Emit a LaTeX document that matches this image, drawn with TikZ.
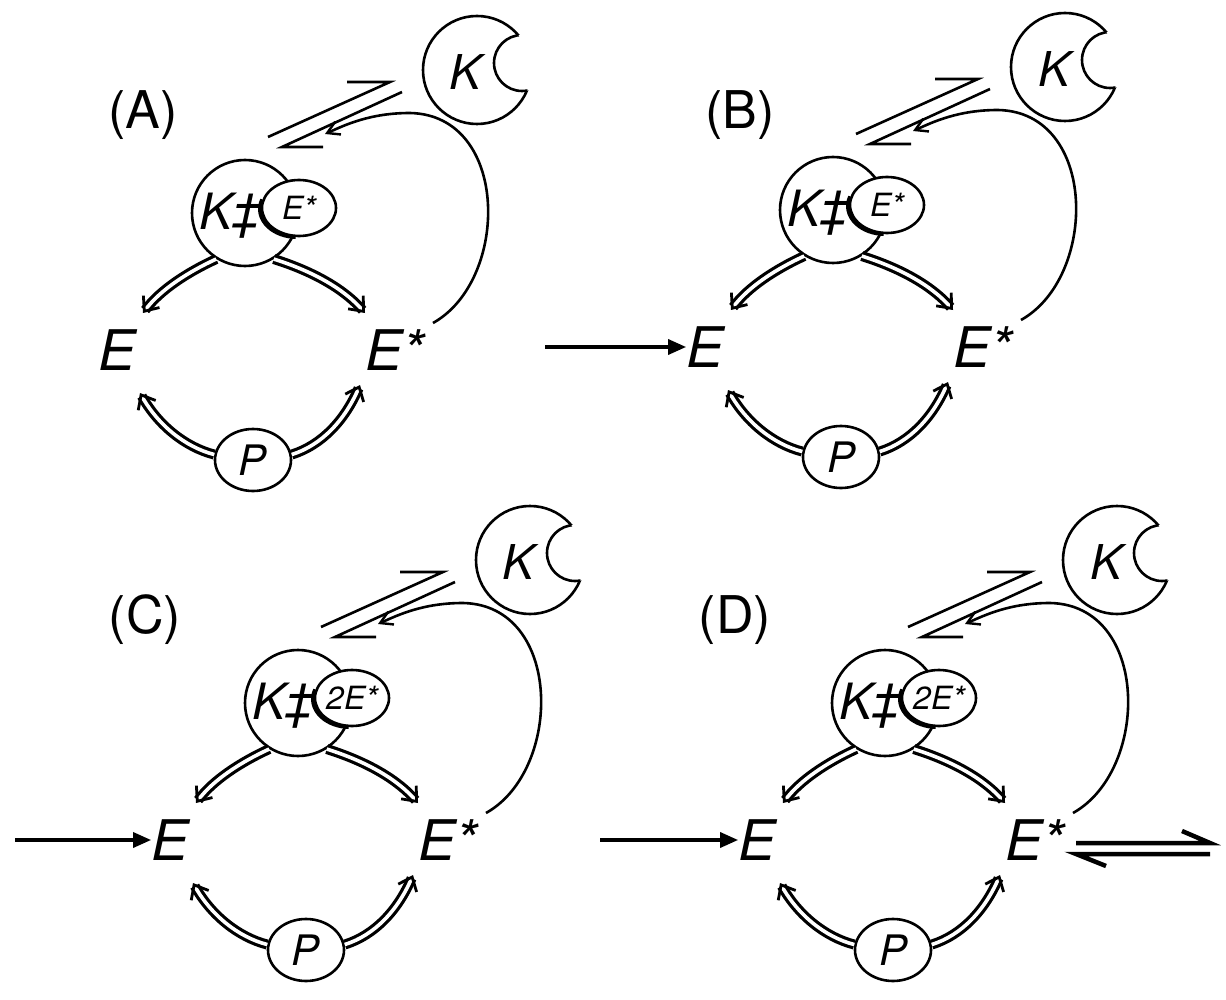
\documentclass[tikz,border=0pt]{standalone}
\usepackage{fontspec}
\setmainfont{TeX Gyre Heros}
\usetikzlibrary{shapes.geometric,arrows.meta,calc}
\tikzset{
  big/.style={font=\fontsize{56}{60}\selectfont\itshape, inner sep=0pt},
  lab/.style={font=\fontsize{52}{60}\selectfont, inner sep=0pt},
  thin/.style={line width=2.6pt},
  dbl/.style={double=white, double distance=3.6pt, line width=3.2pt, -{Straight Barb[length=12pt,width=20pt,line width=2.8pt]}},
  feed/.style={line width=2.6pt, -{Straight Barb[length=12pt,width=14pt,line width=2.4pt]}},
  inflow/.style={line width=3.4pt, -{Triangle[length=18pt,width=15pt]}},
  harp/.style={line width=4.5pt},
}
\newcommand\mypanel[7]{%
\begin{scope}[shift={(#1,#2)}]
  \node[lab] (#7lab) at (#4,#5) {(#3)};
  \draw[thin] (477,70) circle[radius=54];
  \fill[white] (522,63) circle[radius=28];
  \begin{scope}\clip (477,70) circle[radius=54]; \draw[thin] (522,63) circle[radius=28];\end{scope}
  \node[font=\fontsize{48}{50}\selectfont\itshape, inner sep=0pt] (#7K) at (466,72) {K};
  \coordinate (#7h1) at (268,137); \coordinate (#7h2) at (390,82); \coordinate (#7h3) at (347,82);
  \coordinate (#7h4) at (402,92); \coordinate (#7h5) at (282,147); \coordinate (#7h6) at (323,147);
  \draw[thin] (#7h1) -- (#7h2) -- (#7h3);
  \draw[thin] (#7h4) -- (#7h5) -- (#7h6);
  \node[circle, draw, thin, minimum size=106pt, inner sep=0pt, fill=white] (#7c) at (245,213) {};
  \node[font=\fontsize{50}{50}\selectfont\itshape, inner sep=0pt] (#7kt) at (230,216) {K‡};
  \node[ellipse, draw, thin, fill=white, minimum width=74pt, minimum height=56pt, inner sep=0pt,
        font=\fontsize{32}{32}\selectfont\itshape] (#7s) at (299,208) {#6};
  \draw[line width=4pt] ($(297,209)+({37*cos(-160)},{28*sin(-160)})$) arc[start angle=-160, end angle=-268, x radius=37, y radius=28];
  \node[big] (#7E) at (117,350) {E};
  \node[big] (#7Es) at (395,350) {E*};
  \node[ellipse, draw, thin, fill=white, minimum width=76pt, minimum height=62pt, inner sep=0pt,
        font=\fontsize{42}{42}\selectfont\itshape] (#7P) at (253,460) {P};
  \coordinate (#7a1) at (143,313); \coordinate (#7a2) at (365,313);
  \coordinate (#7a3) at (140,393); \coordinate (#7a4) at (360,385);
  \draw[dbl] (#7c.238) .. controls (188,272) and (160,290) .. (#7a1);
  \draw[dbl] (#7c.302) .. controls (315,272) and (345,290) .. (#7a2);
  \draw[dbl] (#7P.172) .. controls (185,447) and (158,425) .. (#7a3);
  \draw[dbl] (#7P.8) .. controls (322,445) and (345,420) .. (#7a4);
  \coordinate (#7f0) at (433,323); \coordinate (#7f1) at (325,134);
  \draw[feed] (#7f0) .. controls (510,280) and (510,115) .. (410,113)
     .. controls (370,113) and (345,125) .. (#7f1);
\end{scope}}
\begin{document}
\begin{tikzpicture}[x=1pt,y=-1pt]
\useasboundingbox (0,0) rectangle (1226,1000);
\mypanel{0}{0}{A}{143}{115}{E*}{pa}
\mypanel{588}{-3}{B}{152}{118}{E*}{pb}
\mypanel{53}{490}{C}{92}{130}{2E*}{pc}
\mypanel{640}{490}{D}{95}{130}{2E*}{pd}
\coordinate (ib) at (545,347);
\coordinate (ic) at (15,840);
\coordinate (id) at (600,840);
\draw[inflow] (ib) -- (pbE.west);
\draw[inflow] (ic) -- (pcE.west);
\draw[inflow] (id) -- (pdE.west);
\coordinate (o1) at (1076,843); \coordinate (o2) at (1210,843); \coordinate (o3) at (1182,831);
\coordinate (o4) at (1210,854); \coordinate (o5) at (1076,854); \coordinate (o6) at (1106,866);
\draw[harp] (o1) -- (o2) -- (o3);
\draw[harp] (o4) -- (o5) -- (o6);
\end{tikzpicture}
\end{document}
